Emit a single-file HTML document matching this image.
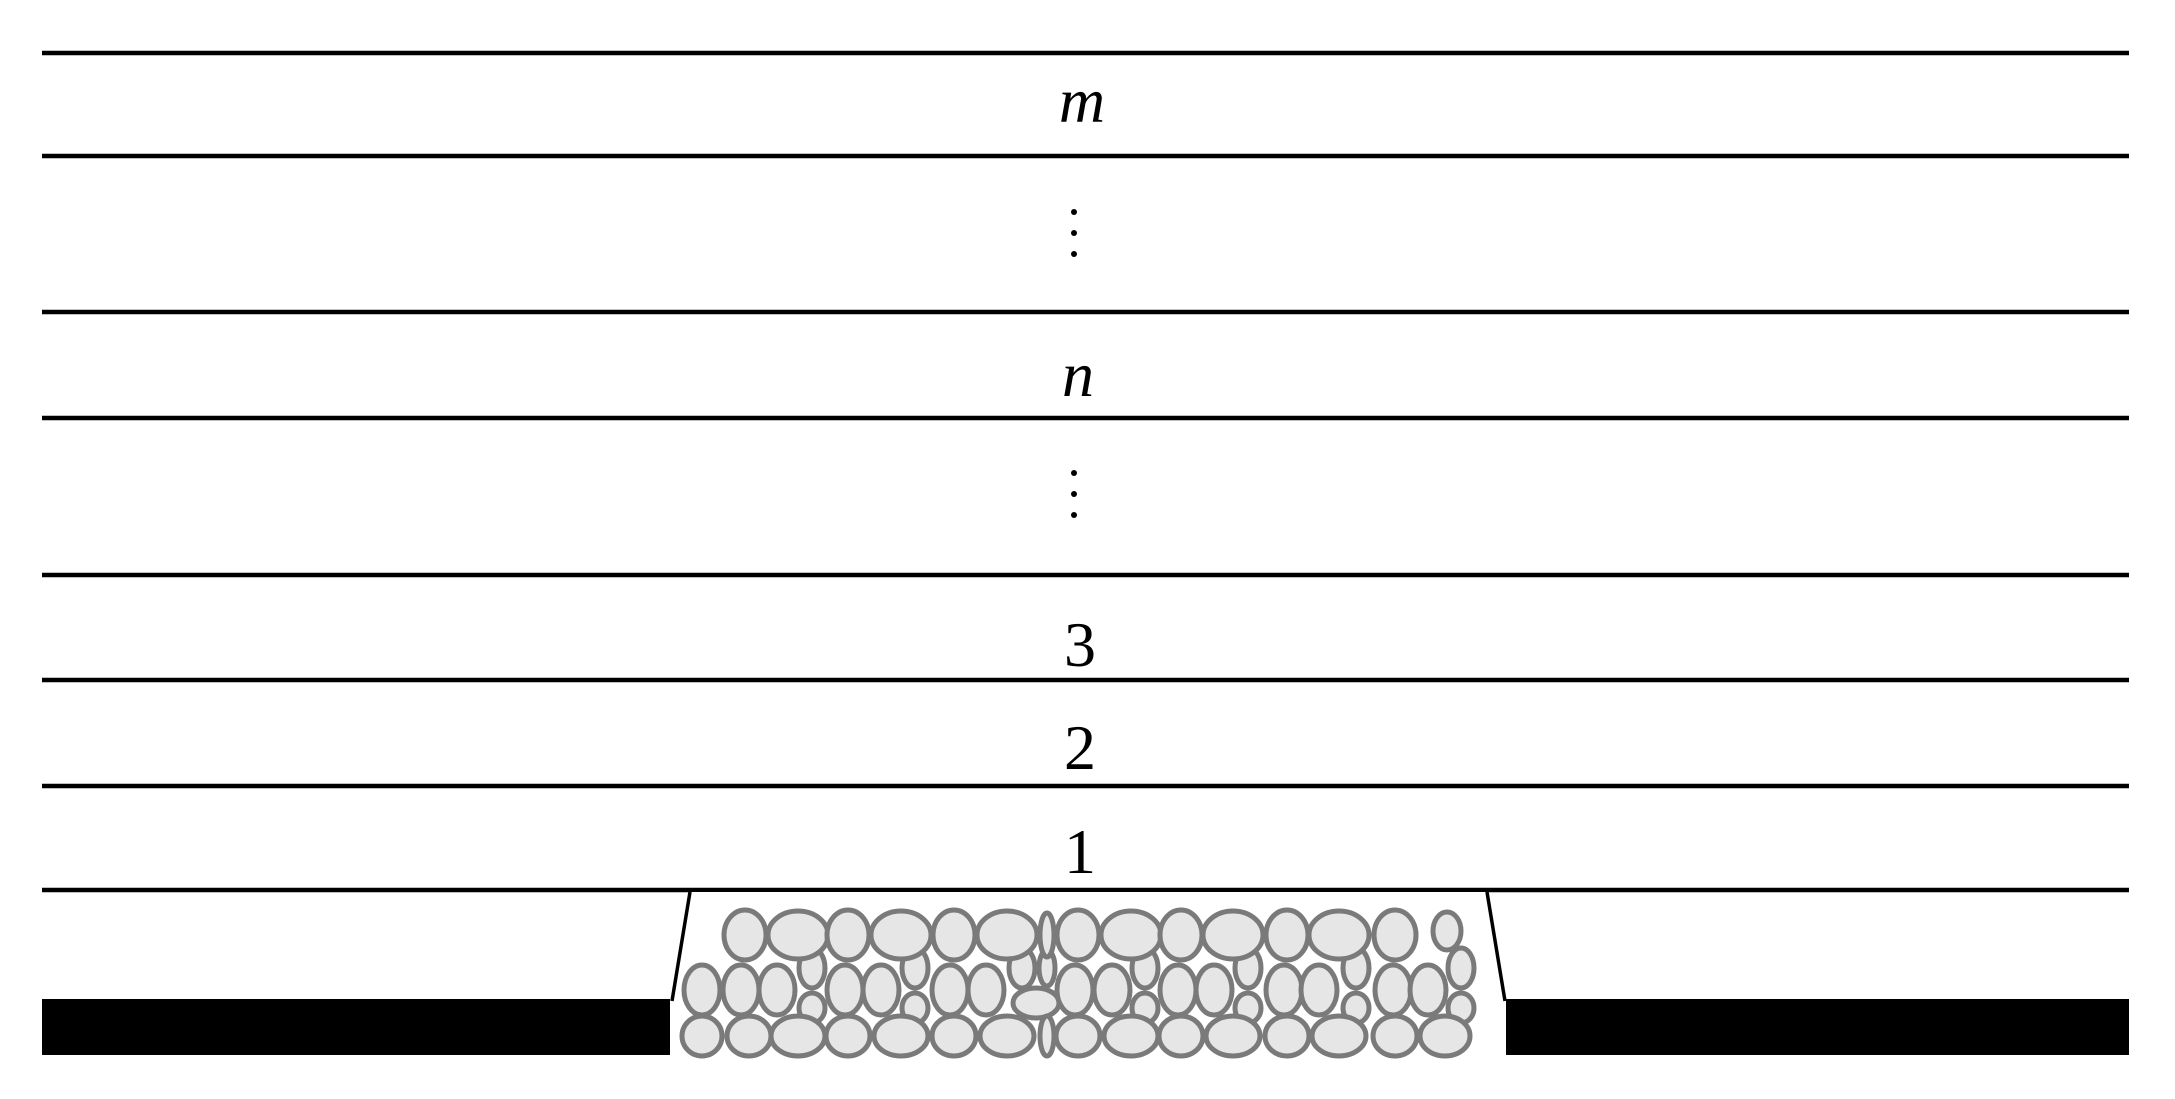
<!DOCTYPE html>
<html><head><style>html,body{margin:0;padding:0;background:#fff}svg{display:block}</style></head>
<body>
<svg width="2175" height="1099" viewBox="0 0 2175 1099" xmlns="http://www.w3.org/2000/svg">
<g stroke="#000" stroke-width="4.5">
<line x1="42" y1="53" x2="2129" y2="53"/>
<line x1="42" y1="156" x2="2129" y2="156"/>
<line x1="42" y1="312" x2="2129" y2="312"/>
<line x1="42" y1="418" x2="2129" y2="418"/>
<line x1="42" y1="575" x2="2129" y2="575"/>
<line x1="42" y1="680" x2="2129" y2="680"/>
<line x1="42" y1="786" x2="2129" y2="786"/>
<line x1="42" y1="890" x2="2129" y2="890"/>
</g>
<rect x="42" y="999" width="630" height="56" fill="#000"/>
<rect x="1506" y="999" width="623" height="56" fill="#000"/>
<polygon points="690,892 1487,892 1506,999 1506,1055 670,1055 670,999" fill="#fff"/>
<line x1="690" y1="892" x2="672" y2="1001" stroke="#000" stroke-width="3.5"/>
<line x1="1487" y1="892" x2="1505" y2="1001" stroke="#000" stroke-width="3.5"/>
<g font-family="Liberation Serif, serif" font-size="64" text-anchor="middle" fill="#000">
<text x="1082" y="122" font-style="italic">m</text>
<text x="1078" y="396" font-style="italic">n</text>
<text x="1080" y="666">3</text>
<text x="1080" y="769">2</text>
<text x="1080" y="873">1</text>
</g>
<g fill="#000">
<circle cx="1074" cy="212" r="3"/><circle cx="1074" cy="233" r="3"/><circle cx="1074" cy="254" r="3"/>
<circle cx="1074" cy="473" r="3"/><circle cx="1074" cy="494" r="3"/><circle cx="1074" cy="515" r="3"/>
</g>
<g fill="#e6e6e6" stroke="#7a7a7a" stroke-width="5">
<ellipse cx="812" cy="968" rx="13" ry="20"/><ellipse cx="812" cy="1008" rx="13" ry="15"/>
<ellipse cx="915" cy="968" rx="13" ry="20"/><ellipse cx="915" cy="1008" rx="13" ry="15"/>
<ellipse cx="1022" cy="968" rx="13" ry="20"/>
<ellipse cx="1047" cy="968" rx="8" ry="18"/>
<ellipse cx="1145" cy="968" rx="13" ry="20"/><ellipse cx="1145" cy="1008" rx="13" ry="15"/>
<ellipse cx="1248" cy="968" rx="13" ry="20"/><ellipse cx="1248" cy="1008" rx="13" ry="15"/>
<ellipse cx="1356" cy="968" rx="13" ry="20"/><ellipse cx="1356" cy="1008" rx="13" ry="15"/>
<ellipse cx="1461" cy="968" rx="13" ry="20"/><ellipse cx="1461" cy="1008" rx="13" ry="15"/>
<ellipse cx="745" cy="935" rx="21" ry="25"/>
<ellipse cx="798" cy="935" rx="30" ry="24"/>
<ellipse cx="848" cy="935" rx="21" ry="25"/>
<ellipse cx="901" cy="935" rx="30" ry="24"/>
<ellipse cx="954" cy="935" rx="21" ry="25"/>
<ellipse cx="1007" cy="935" rx="30" ry="24"/>
<ellipse cx="1047" cy="935" rx="7" ry="22"/>
<ellipse cx="1078" cy="935" rx="21" ry="25"/>
<ellipse cx="1131" cy="935" rx="30" ry="24"/>
<ellipse cx="1181" cy="935" rx="21" ry="25"/>
<ellipse cx="1233" cy="935" rx="30" ry="24"/>
<ellipse cx="1287" cy="935" rx="21" ry="25"/>
<ellipse cx="1339" cy="935" rx="30" ry="24"/>
<ellipse cx="1395" cy="935" rx="21" ry="25"/>
<ellipse cx="1447" cy="931" rx="14" ry="19"/>
<ellipse cx="702" cy="990" rx="18" ry="25"/>
<ellipse cx="741" cy="990" rx="18" ry="25"/>
<ellipse cx="777" cy="990" rx="18" ry="25"/>
<ellipse cx="845" cy="990" rx="18" ry="25"/>
<ellipse cx="881" cy="990" rx="18" ry="25"/>
<ellipse cx="950" cy="990" rx="18" ry="25"/>
<ellipse cx="986" cy="990" rx="18" ry="25"/>
<ellipse cx="1036" cy="1003" rx="23" ry="15"/>
<ellipse cx="1075" cy="990" rx="18" ry="25"/>
<ellipse cx="1112" cy="990" rx="18" ry="25"/>
<ellipse cx="1178" cy="990" rx="18" ry="25"/>
<ellipse cx="1214" cy="990" rx="18" ry="25"/>
<ellipse cx="1284" cy="990" rx="18" ry="25"/>
<ellipse cx="1319" cy="990" rx="18" ry="25"/>
<ellipse cx="1393" cy="990" rx="18" ry="25"/>
<ellipse cx="1428" cy="990" rx="18" ry="25"/>
<ellipse cx="702" cy="1036" rx="20" ry="20"/>
<ellipse cx="749" cy="1036" rx="22" ry="20"/>
<ellipse cx="798" cy="1036" rx="27" ry="20"/>
<ellipse cx="848" cy="1036" rx="22" ry="20"/>
<ellipse cx="901" cy="1036" rx="27" ry="20"/>
<ellipse cx="954" cy="1036" rx="22" ry="20"/>
<ellipse cx="1007" cy="1036" rx="27" ry="20"/>
<ellipse cx="1047" cy="1036" rx="7" ry="20"/>
<ellipse cx="1078" cy="1036" rx="22" ry="20"/>
<ellipse cx="1131" cy="1036" rx="27" ry="20"/>
<ellipse cx="1181" cy="1036" rx="22" ry="20"/>
<ellipse cx="1233" cy="1036" rx="27" ry="20"/>
<ellipse cx="1287" cy="1036" rx="22" ry="20"/>
<ellipse cx="1339" cy="1036" rx="27" ry="20"/>
<ellipse cx="1395" cy="1036" rx="22" ry="20"/>
<ellipse cx="1445" cy="1036" rx="25" ry="20"/>
</g>
</svg>
</body></html>
